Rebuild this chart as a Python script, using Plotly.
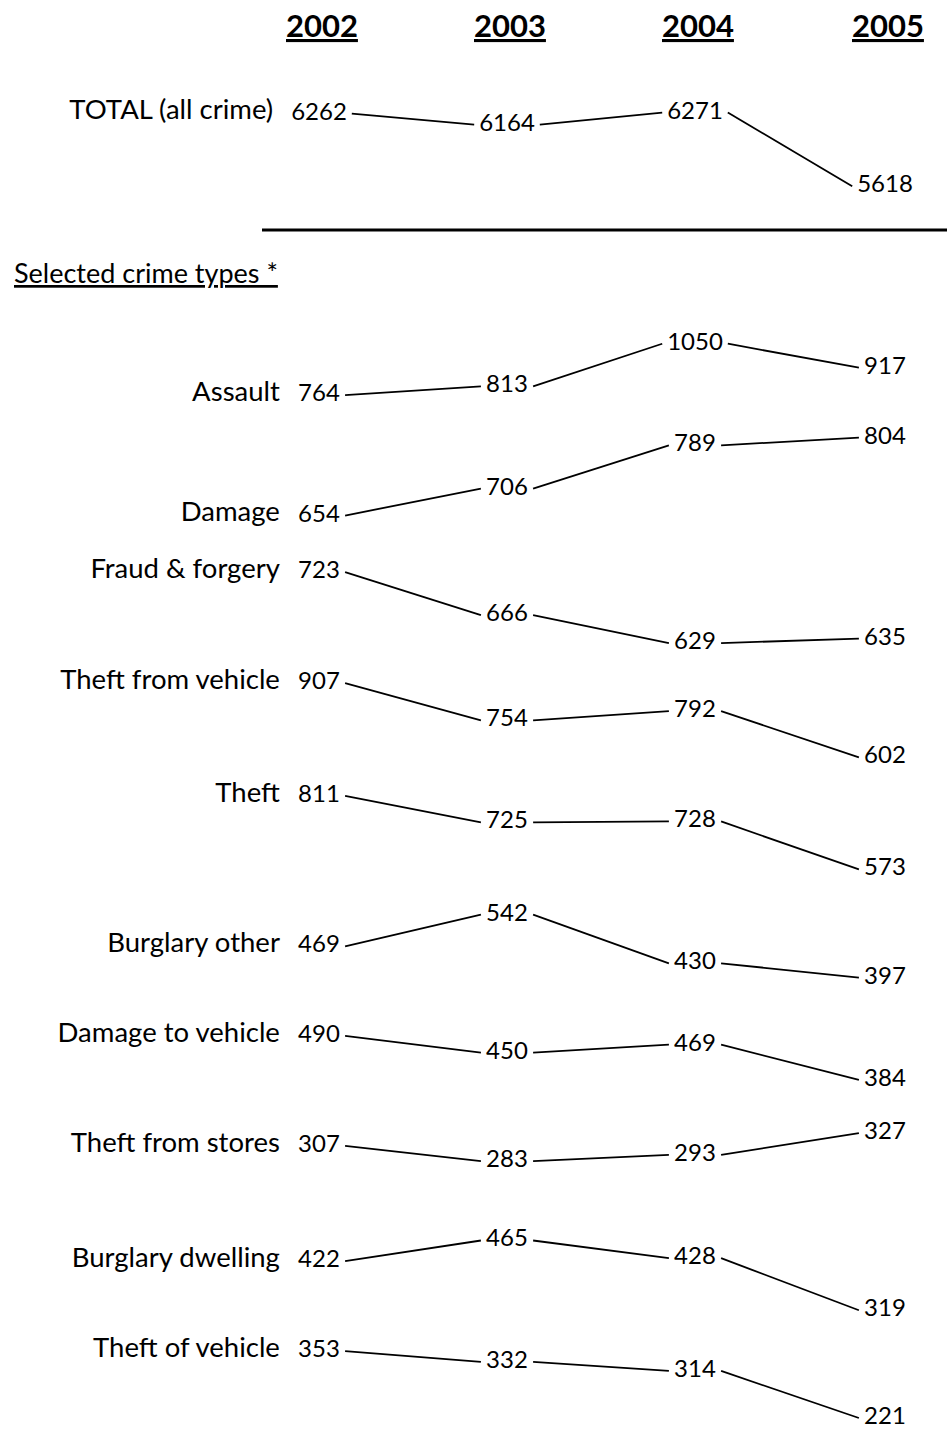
import plotly.graph_objects as go

# ---------------- data ----------------
years = ["2002", "2003", "2004", "2005"]

total_label = "TOTAL (all crime)"
total_values = [6262, 6164, 6271, 5618]

section_title = "Selected crime types *"

crime_types = [
    "Assault", "Damage", "Fraud & forgery", "Theft from vehicle", "Theft",
    "Burglary other", "Damage to vehicle", "Theft from stores",
    "Burglary dwelling", "Theft of vehicle",
]
assault = [764, 813, 1050, 917]
damage = [654, 706, 789, 804]
fraud_forgery = [723, 666, 629, 635]
theft_from_vehicle = [907, 754, 792, 602]
theft = [811, 725, 728, 573]
burglary_other = [469, 542, 430, 397]
damage_to_vehicle = [490, 450, 469, 384]
theft_from_stores = [307, 283, 293, 327]
burglary_dwelling = [422, 465, 428, 319]
theft_of_vehicle = [353, 332, 314, 221]

crime_values = [assault, damage, fraud_forgery, theft_from_vehicle, theft,
                burglary_other, damage_to_vehicle, theft_from_stores,
                burglary_dwelling, theft_of_vehicle]

# ---------------- layout (per-row vertical scales, in page pixels) ----------------
W, H = 949, 1432
FONT = "Lato, 'Open Sans', sans-serif"
col_x = [319, 507, 695, 885]            # column centres
row_mid_y = [134.25, 373.25, 471.75, 617.25, 718, 827.25, 950.5, 1053.25,
             1148.75, 1267.5, 1375.5]  # vertical centre of each row
row_px_per_unit = [0.113, 0.18, 0.52, 0.754, 0.2435, 0.309, 0.434, 0.414,
                   0.635, 0.478, 0.506]
digit_w = 13.4
gap = 6

all_labels = [total_label] + crime_types
all_values = [total_values] + crime_values


def row_y(i, vals):
    m = sum(vals) / len(vals)
    return [row_mid_y[i] - row_px_per_unit[i] * (v - m) for v in vals]


fig = go.Figure()

for i, (lab, vals) in enumerate(zip(all_labels, all_values)):
    ys = row_y(i, vals)
    # connecting segments
    lx, ly = [], []
    for k in range(len(vals) - 1):
        x0 = col_x[k] + len(str(vals[k])) * digit_w / 2 + gap
        x1 = col_x[k + 1] - len(str(vals[k + 1])) * digit_w / 2 - gap
        lx += [x0, x1, None]
        ly += [ys[k], ys[k + 1], None]
    fig.add_trace(go.Scatter(x=lx, y=ly, mode="lines",
                             line=dict(color="black", width=1.8),
                             hoverinfo="skip", showlegend=False))
    # values
    fig.add_trace(go.Scatter(x=col_x, y=ys, mode="text",
                             text=[str(v) for v in vals],
                             textposition="middle center",
                             textfont=dict(family=FONT, size=24, color="black"),
                             hoverinfo="skip", showlegend=False))
    # row label
    label_right = col_x[0] - len(str(vals[0])) * digit_w / 2 - 19
    fig.add_trace(go.Scatter(x=[label_right], y=[ys[0] - 1], mode="text",
                             text=[lab], textposition="middle left",
                             textfont=dict(family=FONT, size=27.5, color="black"),
                             hoverinfo="skip", showlegend=False))

# year headers
annotations = []
for k, yr in enumerate(years):
    annotations.append(dict(x=col_x[k] + 3, y=25, xref="x", yref="y",
                            text="<b>" + yr + "</b>", showarrow=False,
                            xanchor="center", yanchor="middle",
                            font=dict(family=FONT, size=31, color="black",
                                      lineposition="under")))
annotations.append(dict(x=12, y=272, xref="x", yref="y", text=section_title,
                        showarrow=False, xanchor="left", yanchor="middle",
                        font=dict(family=FONT, size=27, color="black",
                                  lineposition="under")))

fig.update_layout(
    width=W, height=H,
    margin=dict(l=0, r=0, t=0, b=0),
    paper_bgcolor="white", plot_bgcolor="white",
    xaxis=dict(range=[0, W], visible=False, fixedrange=True),
    yaxis=dict(range=[H, 0], visible=False, fixedrange=True),
    annotations=annotations,
    shapes=[dict(type="line", xref="x", yref="y", x0=262, x1=947, y0=230, y1=230,
                 line=dict(color="black", width=3))],
)

fig.write_html("out.html",
               config={"displayModeBar": False, "staticPlot": True},
               post_script="document.body.style.margin='0';document.body.style.overflow='hidden';")
